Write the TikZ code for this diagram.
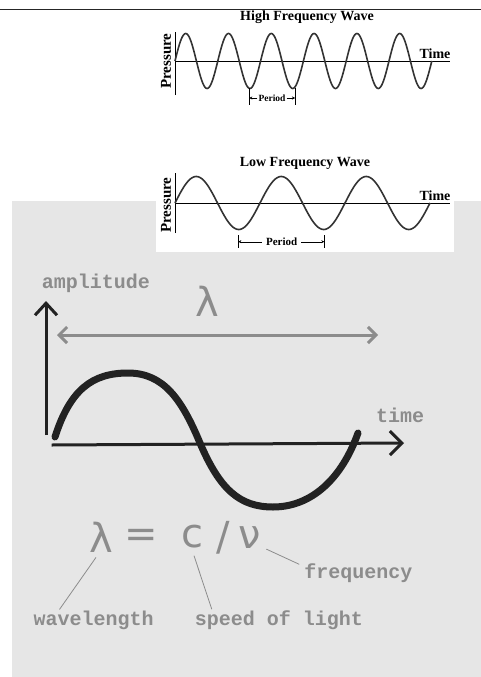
\documentclass[tikz,border=0pt]{standalone}
\usepackage{fontspec}
\setmainfont{Liberation Serif}
\newfontfamily\handmono{Liberation Mono}
\newfontfamily\glyphfont{DejaVu Sans}
\usetikzlibrary{arrows.meta}
\definecolor{pencil}{HTML}{8C8C8C}
\definecolor{paper}{HTML}{E6E6E6}
\definecolor{ink}{HTML}{222222}

\begin{document}
\begin{tikzpicture}[x=1pt,y=-1pt,
  title/.style={font=\bfseries\fontsize{14}{16}\selectfont, inner sep=1pt},
  small/.style={font=\bfseries\fontsize{9.5}{11}\selectfont, inner sep=1pt},
  wave/.style={line width=1.6pt, draw=black!80},
  chalk/.style={text=pencil, font=\handmono\bfseries\fontsize{20}{22}\selectfont, inner sep=1pt},
  sym/.style={text=pencil, font=\glyphfont\fontsize{40}{44}\selectfont, inner sep=0pt},
  leader/.style={draw=pencil, line width=0.8pt}]

\useasboundingbox (0,0) rectangle (481,677);
\fill[paper] (12,201) rectangle (481,677);
\fill[white] (156,195) rectangle (454,252);
\draw[black!85, line width=1pt] (0,10) -- (481,10);

% high frequency wave
\node[title] (hftitle) at (307,17) {High Frequency Wave};
\coordinate (hfbot) at (175,95);
\coordinate (hftop) at (175,32);
\coordinate (hforigin) at (175,61);
\coordinate (hfend) at (450,61);
\draw (hfbot) -- (hftop);
\draw (hforigin) -- (hfend);
\draw[wave] plot[domain=0:2160, samples=241] ({175+\x/360*42.8},{61-27.5*sin(\x)});
\node[title, font=\bfseries\fontsize{15}{17}\selectfont, rotate=90] (hfpress) at (166,61) {Pressure};
\node[title, anchor=south] (hftime) at (435,60) {Time};
\node[small] (hfper) at (272,98) {Period};
\coordinate (hfl) at (249.3,96.5);
\coordinate (hfr) at (295,96.5);
\draw ([yshift=8.5]hfl) -- ([yshift=-8.5]hfl);
\draw ([yshift=8.5]hfr) -- ([yshift=-8.5]hfr);
\draw[-{Stealth[length=3pt,width=3pt]}] (hfper.west) -- (hfl |- hfper);
\draw[-{Stealth[length=3pt,width=3pt]}] (hfper.east) -- (hfr |- hfper);

% low frequency wave
\node[title] (lftitle) at (305,163) {Low Frequency Wave};
\coordinate (lfbot) at (175,233);
\coordinate (lftop) at (175,173);
\coordinate (lforigin) at (175,203);
\coordinate (lfend) at (450,203);
\draw (lfbot) -- (lftop);
\draw (lforigin) -- (lfend);
\draw[wave] plot[domain=0:1080, samples=181] ({175+\x/360*85},{203-26.5*sin(\x)});
\node[title, font=\bfseries\fontsize{15}{17}\selectfont, rotate=90] (lfpress) at (166,205) {Pressure};
\node[title, anchor=south] (lftime) at (435,202) {Time};
\node[small, font=\bfseries\fontsize{11}{12}\selectfont, inner sep=4pt] (lfper) at (281.7,241.7) {Period};
\coordinate (lfl) at (238.3,241.5);
\coordinate (lfr) at (324.3,241.5);
\draw ([yshift=6.5]lfl) -- ([yshift=-6.5]lfl);
\draw ([yshift=6.5]lfr) -- ([yshift=-6.5]lfr);
\draw[-{Stealth[length=3pt,width=3pt]}] (lfper.west) -- (lfl |- lfper);
\draw[-{Stealth[length=3pt,width=3pt]}] (lfper.east) -- (lfr |- lfper);

% hand drawn sketch
\node[chalk] (amp) at (96,283) {amplitude};
\node[sym] (lamtop) at (207,301) {λ};
\coordinate (lamL) at (57,335);
\coordinate (lamR) at (378,335);
\draw[pencil, line width=3pt, {Straight Barb[length=8pt,width=16pt]}-{Straight Barb[length=8pt,width=16pt]}] (lamL) -- (lamR);

\coordinate (ampbase) at (46,435);
\coordinate (amptop) at (46,301);
\draw[ink, line width=3pt, -{Straight Barb[length=12pt,width=22pt]}] (ampbase) -- (amptop);
\coordinate (timebase) at (51.7,445);
\coordinate (timetip) at (404,443);
\draw[ink, line width=3pt, -{Straight Barb[length=12pt,width=24pt]}] (timebase) -- (timetip);
\node[chalk] (timelbl) at (400,415) {time};

\draw[ink, line width=7pt, line cap=round] (55,437) .. controls (70,390) and (92,373) .. (128,373)
  .. controls (164,373) and (182,400) .. (200,443)
  .. controls (220,490) and (240,507) .. (273,507)
  .. controls (312,507) and (342,478) .. (358,433);

% formula
\node[sym] (lam) at (101,537) {λ};
\node[sym] (eq) at (141,538) {=};
\node[sym] (cc) at (192,537) {c};
\node[sym] (slash) at (223,538) {/};
\node[sym] (nu) at (250,538) {ν};

\node[chalk] (freq) at (358.5,573) {frequency};
\node[chalk] (wl) at (93.7,620) {wavelength};
\node[chalk] (sol) at (279,620) {speed of light};

\draw[leader] ([xshift=-5,yshift=-5]lam.south) -- ([xshift=27]wl.north west);
\draw[leader] ([xshift=2,yshift=-7]cc.south) -- ([xshift=18]sol.north west);
\draw[leader] ([xshift=5]nu.south east) -- ([xshift=-4,yshift=-2]freq.north west);
\end{tikzpicture}
\end{document}
